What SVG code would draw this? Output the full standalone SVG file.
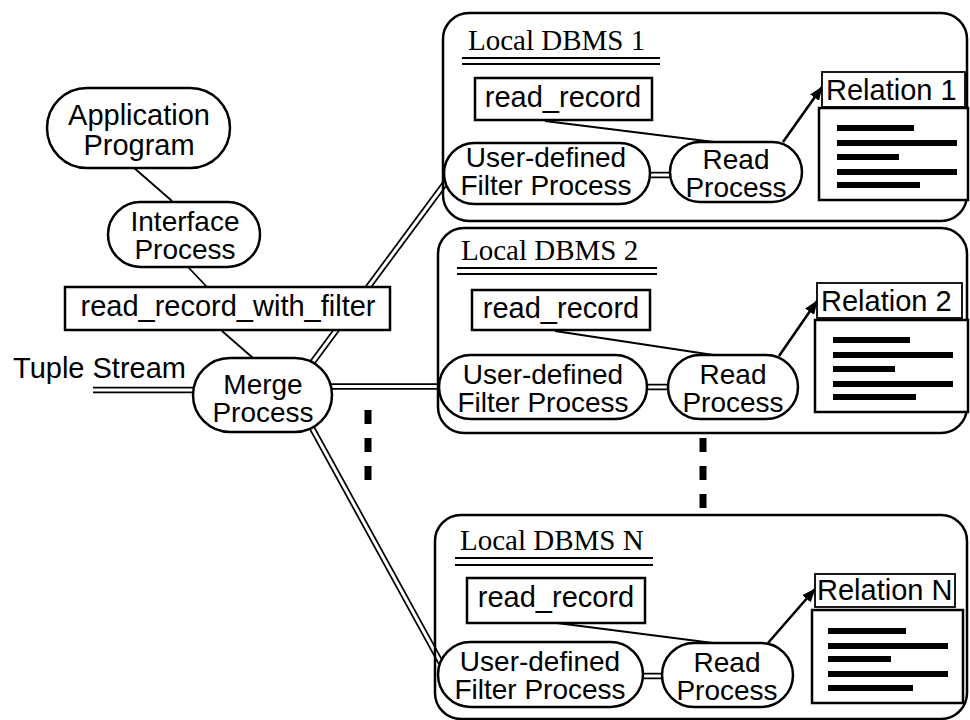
<svg xmlns="http://www.w3.org/2000/svg" width="970" height="720" viewBox="0 0 970 720">
<defs>
<style>
.sans{font-family:"Liberation Sans",Arial,sans-serif;font-size:29px;fill:#000}
.s28{font-size:28px}
.serif{font-family:"Liberation Serif","Times New Roman",serif;font-size:29px;fill:#000}
.mid{text-anchor:middle}
.pill{fill:#fff;stroke:#000;stroke-width:2.5}
.box{fill:#fff;stroke:#000;stroke-width:2.5}
.thin{fill:#fff;stroke:#000;stroke-width:1.8}
.db{fill:none;stroke:#000;stroke-width:2.5}
.ln{fill:none;stroke:#000;stroke-width:1.8}
.ar{fill:none;stroke:#000;stroke-width:2.6}
.dblo{fill:none;stroke:#000;stroke-width:6.5}
.dbli{fill:none;stroke:#fff;stroke-width:3}
.dash{fill:none;stroke:#000;stroke-width:7;stroke-dasharray:14 14}
.bar{fill:#000}
.ul{stroke:#000;stroke-width:1.8}
</style>
<marker id="arr" viewBox="0 0 14 11" refX="13" refY="5.5" markerWidth="14" markerHeight="11" markerUnits="userSpaceOnUse" orient="auto">
<path d="M0,0 L14,5.5 L0,11 Z" fill="#000"/>
</marker>
</defs>
<rect width="970" height="720" fill="#fff"/>

<g id="connectors">
<line class="ln" x1="133" y1="167" x2="172" y2="201"/>
<line class="ln" x1="188" y1="267" x2="207" y2="287"/>
<line class="ln" x1="222" y1="331" x2="253" y2="358"/>
<g id="tuple-stream">
<line class="dblo" x1="93" y1="390" x2="196" y2="390"/>
<line class="dbli" x1="91" y1="390" x2="196" y2="390"/>
</g>
<g id="merge-dbms1">
<line class="dblo" x1="312" y1="363" x2="446" y2="182"/>
<line class="dbli" x1="312" y1="363" x2="446" y2="182"/>
</g>
<g id="merge-dbms2">
<line class="dblo" x1="330" y1="386.5" x2="442" y2="386.5"/>
<line class="dbli" x1="330" y1="386.5" x2="442" y2="386.5"/>
</g>
<g id="merge-dbmsN">
<line class="dblo" x1="312" y1="428" x2="441" y2="663"/>
<line class="dbli" x1="312" y1="428" x2="441" y2="663"/>
</g>
<g id="filter-read">
<line class="dblo" x1="648" y1="175" x2="672" y2="175"/>
<line class="dbli" x1="646" y1="175" x2="674" y2="175"/>
<line class="dblo" x1="646" y1="387" x2="670" y2="387"/>
<line class="dbli" x1="644" y1="387" x2="672" y2="387"/>
<line class="dblo" x1="641" y1="676" x2="664" y2="676"/>
<line class="dbli" x1="639" y1="676" x2="666" y2="676"/>
</g>
<line class="ln" x1="545" y1="121" x2="722" y2="143"/>
<line class="ln" x1="555" y1="331" x2="720" y2="356"/>
<line class="ln" x1="557" y1="623" x2="713" y2="643"/>
<line class="ar" x1="783" y1="142" x2="822" y2="87" marker-end="url(#arr)"/>
<line class="ar" x1="779" y1="356" x2="817" y2="301" marker-end="url(#arr)"/>
<line class="ar" x1="768" y1="643" x2="815" y2="589" marker-end="url(#arr)"/>
<line class="dash" x1="368" y1="410" x2="368" y2="482"/>
<line class="dash" x1="703" y1="438" x2="703" y2="512"/>
</g>

<g id="app-program">
<rect class="pill" x="47" y="88" width="183" height="80" rx="40"/>
<text class="sans mid" x="139" y="125">Application</text>
<text class="sans mid" x="139" y="155">Program</text>
</g>
<g id="interface-process">
<rect class="pill" x="108" y="202" width="152" height="65" rx="32.5"/>
<text class="sans s28 mid" x="185" y="231">Interface</text>
<text class="sans s28 mid" x="185" y="259">Process</text>
</g>
<g id="read-record-with-filter">
<rect class="box" x="65" y="287" width="325" height="43"/>
<text class="sans mid" x="228" y="316">read_record_with_filter</text>
</g>
<g id="tuple-stream-label">
<text class="sans" x="13" y="378">Tuple Stream</text>
</g>
<g id="merge-process">
<rect class="pill" x="193" y="358" width="139" height="74" rx="37"/>
<text class="sans s28 mid" x="263" y="394">Merge</text>
<text class="sans s28 mid" x="263" y="422">Process</text>
</g>

<g id="dbms1">
<rect class="db" x="443" y="13" width="524" height="208" rx="26"/>
<text class="serif" x="468" y="50">Local DBMS 1</text>
<line class="ul" x1="462" y1="58" x2="660" y2="58"/>
<line class="ul" x1="462" y1="64" x2="660" y2="64"/>
<g id="dbms1-read-record">
<rect class="box" x="475" y="78" width="177" height="42"/>
<text class="sans mid" x="563" y="107">read_record</text>
</g>
<g id="dbms1-filter">
<rect class="pill" x="444" y="143" width="206" height="61" rx="30.5"/>
<text class="sans s28 mid" x="546" y="167">User-defined</text>
<text class="sans s28 mid" x="546" y="195">Filter Process</text>
</g>
<g id="dbms1-read">
<rect class="pill" x="670" y="142" width="132" height="60" rx="30"/>
<text class="sans s28 mid" x="736" y="169">Read</text>
<text class="sans s28 mid" x="736" y="197">Process</text>
</g>
<g id="relation1">
<rect class="thin" x="822" y="72" width="143" height="35"/>
<text class="sans" x="826" y="100">Relation 1</text>
<rect class="box" x="819" y="108" width="149" height="92"/>
<rect class="bar" x="837" y="125" width="77" height="6"/>
<rect class="bar" x="837" y="140" width="120" height="6"/>
<rect class="bar" x="837" y="154" width="62" height="6"/>
<rect class="bar" x="837" y="169" width="120" height="6"/>
<rect class="bar" x="837" y="182" width="83" height="6"/>
</g>
</g>

<g id="dbms2">
<rect class="db" x="438" y="228" width="529" height="205" rx="26"/>
<text class="serif" x="461" y="260">Local DBMS 2</text>
<line class="ul" x1="457" y1="268" x2="657" y2="268"/>
<line class="ul" x1="457" y1="274" x2="657" y2="274"/>
<g id="dbms2-read-record">
<rect class="box" x="472" y="290" width="178" height="40"/>
<text class="sans mid" x="561" y="318">read_record</text>
</g>
<g id="dbms2-filter">
<rect class="pill" x="439" y="355" width="208" height="64" rx="32"/>
<text class="sans s28 mid" x="543" y="384">User-defined</text>
<text class="sans s28 mid" x="543" y="412">Filter Process</text>
</g>
<g id="dbms2-read">
<rect class="pill" x="668" y="355" width="130" height="64" rx="32"/>
<text class="sans s28 mid" x="733" y="384">Read</text>
<text class="sans s28 mid" x="733" y="412">Process</text>
</g>
<g id="relation2">
<rect class="thin" x="817" y="283" width="145" height="35"/>
<text class="sans" x="821" y="311">Relation 2</text>
<rect class="box" x="815" y="320" width="153" height="92"/>
<rect class="bar" x="833" y="337" width="77" height="6"/>
<rect class="bar" x="833" y="352" width="120" height="6"/>
<rect class="bar" x="833" y="366" width="62" height="6"/>
<rect class="bar" x="833" y="381" width="120" height="6"/>
<rect class="bar" x="833" y="394" width="83" height="6"/>
</g>
</g>

<g id="dbmsN">
<rect class="db" x="435" y="515" width="532" height="204" rx="26"/>
<text class="serif" x="460" y="550">Local DBMS N</text>
<line class="ul" x1="455" y1="558" x2="653" y2="558"/>
<line class="ul" x1="455" y1="565" x2="653" y2="565"/>
<g id="dbmsN-read-record">
<rect class="box" x="467" y="578" width="178" height="45"/>
<text class="sans mid" x="556" y="607">read_record</text>
</g>
<g id="dbmsN-filter">
<rect class="pill" x="438" y="642" width="205" height="65" rx="32.5"/>
<text class="sans s28 mid" x="540" y="671">User-defined</text>
<text class="sans s28 mid" x="540" y="699">Filter Process</text>
</g>
<g id="dbmsN-read">
<rect class="pill" x="662" y="643" width="131" height="64" rx="32"/>
<text class="sans s28 mid" x="727" y="672">Read</text>
<text class="sans s28 mid" x="727" y="700">Process</text>
</g>
<g id="relationN">
<rect class="thin" x="815" y="574" width="140" height="33"/>
<text class="sans" x="817" y="600">Relation N</text>
<rect class="box" x="812" y="610" width="151" height="93"/>
<rect class="bar" x="828" y="628" width="78" height="6"/>
<rect class="bar" x="828" y="643" width="120" height="6"/>
<rect class="bar" x="828" y="656" width="63" height="6"/>
<rect class="bar" x="828" y="671" width="120" height="6"/>
<rect class="bar" x="828" y="685" width="85" height="6"/>
</g>
</g>
</svg>
